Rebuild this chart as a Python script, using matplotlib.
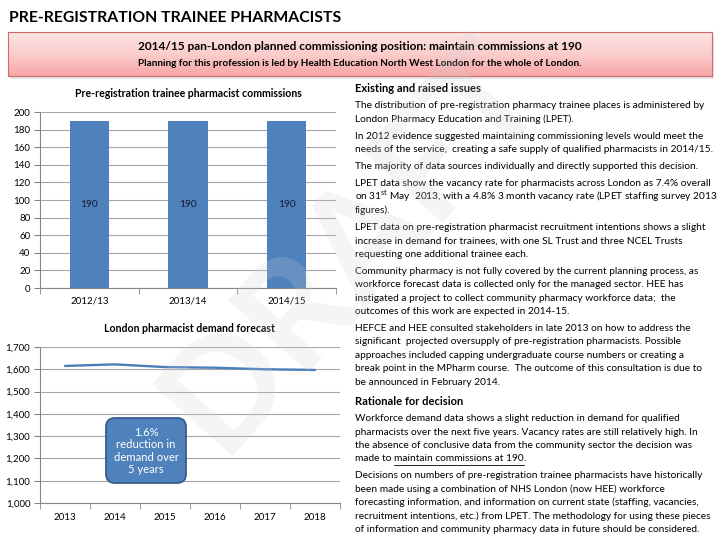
import matplotlib
matplotlib.use("Agg")
import matplotlib.pyplot as plt
import numpy as np
from matplotlib.patches import FancyBboxPatch
from matplotlib.transforms import IdentityTransform
from matplotlib.ticker import FuncFormatter, MultipleLocator
from matplotlib.colors import LinearSegmentedColormap

plt.rcParams['font.family'] = ['Lato', 'DejaVu Sans']
plt.rcParams['mathtext.fontset'] = 'custom'
plt.rcParams['mathtext.rm'] = 'Lato'
plt.rcParams['mathtext.bf'] = 'Lato:bold'

# data
bar_categories = ['2012/13', '2013/14', '2014/15']
commissions = [190, 190, 190]
forecast_years = ['2013', '2014', '2015', '2016', '2017', '2018']
forecast_demand = [1615, 1622, 1610, 1607, 1600, 1597]

title = 'PRE-REGISTRATION TRAINEE PHARMACISTS'
banner_1 = '2014/15 pan-London planned commissioning position: maintain commissions at 190'
banner_2 = 'Planning for this profession is led by Health Education North West London for the whole of London.'
box_note = '1.6%\nreduction in\ndemand over\n5 years'

W, H = 720, 540
blue = '#4F81BD'
grid_c = '#a6a6a6'


def fx(x):
    return x / W


def fy(y):
    return 1 - y / H


fig = plt.figure(figsize=(7.2, 5.4), dpi=100)
fig.patch.set_facecolor('white')

# page title
fig.text(fx(9), fy(18), title, fontsize=11.3, fontweight='bold', va='center', ha='left', color='#000000')

# pink banner with gradient
shadow = FancyBboxPatch((10, H - 79), 704, 44, boxstyle='square,pad=0', transform=IdentityTransform(),
                        facecolor='#d5d5d5', edgecolor='none', alpha=0.6, zorder=0)
fig.add_artist(shadow)
bax = fig.add_axes([fx(8), fy(76), fx(704), 44 / H])
grad = np.linspace(0, 1, 100).reshape(-1, 1)
pink = LinearSegmentedColormap.from_list('pink', ['#fde4e4', '#fbcdcd', '#f7a6a6'])
bax.imshow(grad, aspect='auto', cmap=pink, extent=[0, 1, 0, 1], origin='upper')
bax.set_xticks([])
bax.set_yticks([])
for s in bax.spines.values():
    s.set_color('#cc6b68')
    s.set_linewidth(0.8)
fig.text(fx(360), fy(47), banner_1, fontsize=8.6, fontweight='bold', ha='center', va='center')
fig.text(fx(360), fy(64), banner_2, fontsize=7.2, fontweight='bold', ha='center', va='center')

# bar chart
ax1 = fig.add_axes([fx(40), fy(288), fx(296), 176 / H])
x = np.arange(len(bar_categories))
bars = ax1.bar(x, commissions, width=0.4, color=blue, zorder=3)
ax1.bar_label(bars, label_type='center', fontsize=7.3, color='#1a1a2e')
ax1.set_xlim(-0.5, len(bar_categories) - 0.5)
ax1.set_ylim(0, 200)
ax1.yaxis.set_major_locator(MultipleLocator(20))
ax1.set_xticks(x)
ax1.set_xticklabels(bar_categories)
ax1.set_xticks(np.arange(len(bar_categories) + 1) - 0.5, minor=True)
ax1.tick_params(axis='x', which='major', length=0, labelsize=7, pad=6)
ax1.tick_params(axis='x', which='minor', length=4, color='#868686')
ax1.tick_params(axis='y', length=4, color='#868686', labelsize=7, pad=3)
ax1.grid(axis='y', color=grid_c, linewidth=0.8, zorder=0)
for s in ['top', 'right']:
    ax1.spines[s].set_visible(False)
for s in ['left', 'bottom']:
    ax1.spines[s].set_color('#868686')
ax1.set_title('Pre-registration trainee pharmacist commissions', fontsize=7.6, fontweight='bold', pad=11)

# line chart
ax2 = fig.add_axes([fx(40), fy(503), fx(300), 156 / H])
x2 = np.arange(len(forecast_years))
ax2.plot(x2, forecast_demand, color='#4A7EBB', linewidth=1.7, zorder=3, solid_capstyle='round')
ax2.set_xlim(-0.5, len(forecast_years) - 0.5)
ax2.set_ylim(1000, 1700)
ax2.yaxis.set_major_locator(MultipleLocator(100))
ax2.yaxis.set_major_formatter(FuncFormatter(lambda v, p: f'{int(v):,}'))
ax2.set_xticks(x2)
ax2.set_xticklabels(forecast_years)
ax2.set_xticks(np.arange(len(forecast_years) + 1) - 0.5, minor=True)
ax2.tick_params(axis='x', which='major', length=0, labelsize=7, pad=7)
ax2.tick_params(axis='x', which='minor', length=4, color='#868686')
ax2.tick_params(axis='y', length=4, color='#868686', labelsize=7, pad=3)
ax2.grid(axis='y', color=grid_c, linewidth=0.8, zorder=0)
for s in ['top', 'right']:
    ax2.spines[s].set_visible(False)
for s in ['left', 'bottom']:
    ax2.spines[s].set_color('#868686')
ax2.set_title('London pharmacist demand forecast', fontsize=7.6, fontweight='bold', pad=11)

# callout box
note = FancyBboxPatch((106, H - 483), 80, 65, boxstyle='round,pad=0,rounding_size=9',
                      transform=IdentityTransform(), facecolor=blue, edgecolor='#385D8A',
                      linewidth=1.3, zorder=5)
fig.add_artist(note)
fig.text(fx(146), fy(451), box_note, fontsize=8.1, color='white', ha='center', va='center',
         linespacing=1.17, zorder=6)

# right hand text
sections = [
    ('Existing and raised issues', [
        ['The distribution of pre-registration pharmacy trainee places is administered by',
         'London Pharmacy Education and Training (LPET).'],
        ['In 2012 evidence suggested maintaining commissioning levels would meet the',
         'needs of the service,  creating a safe supply of qualified pharmacists in 2014/15.'],
        ['The majority of data sources individually and directly supported this decision.'],
        ['LPET data show the vacancy rate for pharmacists across London as 7.4% overall',
         'on 31$^{\\rm st}$ May  2013, with a 4.8% 3 month vacancy rate (LPET staffing survey 2013',
         'figures).'],
        ['LPET data on pre-registration pharmacist recruitment intentions shows a slight',
         'increase in demand for trainees, with one SL Trust and three NCEL Trusts',
         'requesting one additional trainee each.'],
        ['Community pharmacy is not fully covered by the current planning process, as',
         'workforce forecast data is collected only for the managed sector. HEE has',
         'instigated a project to collect community pharmacy workforce data;  the',
         'outcomes of this work are expected in 2014-15.'],
        ['HEFCE and HEE consulted stakeholders in late 2013 on how to address the',
         'significant  projected oversupply of pre-registration pharmacists. Possible',
         'approaches included capping undergraduate course numbers or creating a',
         'break point in the MPharm course.  The outcome of this consultation is due to',
         'be announced in February 2014.'],
    ]),
    ('Rationale for decision', [
        ['Workforce demand data shows a slight reduction in demand for qualified',
         'pharmacists over the next five years. Vacancy rates are still relatively high. In',
         'the absence of conclusive data from the community sector the decision was',
         'made to |maintain commissions at 190|.'],
        ['Decisions on numbers of pre-registration trainee pharmacists have historically',
         'been made using a combination of NHS London (now HEE) workforce',
         'forecasting information, and information on current state (staffing, vacancies,',
         'recruitment intentions, etc.) from LPET. The methodology for using these pieces',
         'of information and community pharmacy data in future should be considered.'],
    ]),
]

tx = 355
fs = 7.3
line_step = 13.4
para_step = 17.0
renderer = fig.canvas.get_renderer()
y = 89
for si, (heading, paras) in enumerate(sections):
    if si > 0:
        y += 19.5
    fig.text(fx(tx), fy(y), heading, fontsize=8, fontweight='bold', ha='left', va='center')
    y += para_step
    for pi, para in enumerate(paras):
        if pi > 0:
            y += para_step
        for li, line in enumerate(para):
            if li > 0:
                y += line_step
            if '|' in line:
                pre, und, post = line.split('|')
                t1 = fig.text(fx(tx), fy(y), pre, fontsize=fs, ha='left', va='center')
                x0 = tx + t1.get_window_extent(renderer).width
                t2 = fig.text(fx(x0), fy(y), und, fontsize=fs, ha='left', va='center')
                bb = t2.get_window_extent(renderer)
                fig.add_artist(plt.Line2D([fx(x0), fx(x0 + bb.width)], [fy(y + 6), fy(y + 6)],
                                          transform=fig.transFigure, color='black', linewidth=0.6))
                fig.text(fx(x0 + bb.width), fy(y), post, fontsize=fs, ha='left', va='center')
            else:
                fig.text(fx(tx), fy(y), line, fontsize=fs, ha='left', va='center')

# watermark
fig.text(fx(352), fy(245), 'DRAFT', fontsize=108, fontweight='bold', color='#d0d0d0', alpha=0.2,
         rotation=48, ha='center', va='center', zorder=10)

fig.savefig('out.png', dpi=100)
